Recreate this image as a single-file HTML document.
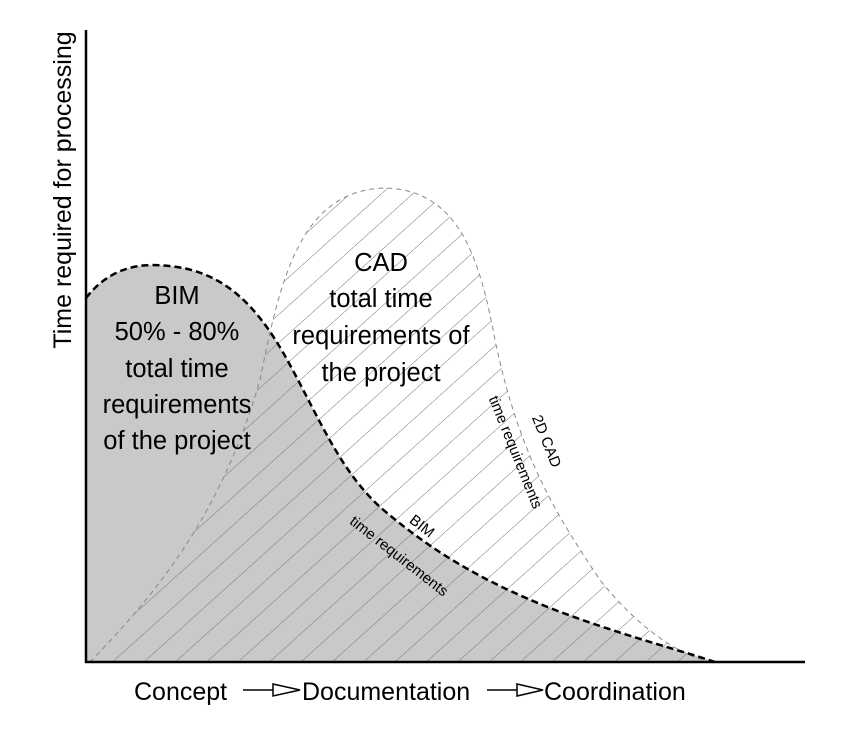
<!DOCTYPE html>
<html><head><style>body{margin:0;background:#fff}svg{display:block}text{font-family:"Liberation Sans",Arial,sans-serif;fill:#000}</style></head><body>
<svg width="850" height="731" viewBox="0 0 850 731" xmlns="http://www.w3.org/2000/svg">
<defs>
<pattern id="h" patternUnits="userSpaceOnUse" width="21" height="21" patternTransform="rotate(48)">
<line x1="0" y1="0" x2="0" y2="21" stroke="#777" stroke-width="1"/>
</pattern>
<clipPath id="cad"><path d="M90,662 C150,600 220,520 260,380 C280,280 300,190 385,188 C460,190 480,260 495,340 C520,460 560,520 600,580 C640,630 680,655 710,662 Z"/></clipPath>
</defs>
<path d="M86,662 L86,298 C100,280 120,266 150,265 C210,265 250,290 290,365 C320,420 340,470 380,507 C430,550 480,580 550,608 C620,635 680,650 715,662 Z" fill="#c9c9c9"/>
<rect x="86" y="180" width="640" height="482" fill="url(#h)" clip-path="url(#cad)"/>
<path d="M90,662 C150,600 220,520 260,380 C280,280 300,190 385,188 C460,190 480,260 495,340 C520,460 560,520 600,580 C640,630 680,655 710,662" fill="none" stroke="#888" stroke-width="1" stroke-dasharray="5,4"/>
<path d="M86,298 C100,280 120,266 150,265 C210,265 250,290 290,365 C320,420 340,470 380,507 C430,550 480,580 550,608 C620,635 680,650 715,662" fill="none" stroke="#000" stroke-width="2.5" stroke-dasharray="7,4"/>
<line x1="86" y1="30" x2="86" y2="663" stroke="#000" stroke-width="2.5"/>
<line x1="85" y1="662" x2="805" y2="662" stroke="#000" stroke-width="2.5"/>
<text transform="translate(71,190) rotate(-90)" font-size="25" text-anchor="middle">Time required for processing</text>
<g font-size="25.5" text-anchor="middle">
<text x="177" y="304">BIM</text>
<text x="177" y="340">50% - 80%</text>
<text x="177" y="377">total time</text>
<text x="177" y="413">requirements</text>
<text x="177" y="449">of the project</text>
<text x="381" y="271">CAD</text>
<text x="381" y="307">total time</text>
<text x="381" y="344">requirements of</text>
<text x="381" y="381">the project</text>
</g>
<g font-size="15" text-anchor="middle">
<text transform="translate(511,454) rotate(68)">time requirements</text>
<text transform="translate(542,443) rotate(68)">2D CAD</text>
<text transform="translate(419,530) rotate(38)">BIM</text>
<text transform="translate(396,560) rotate(38)">time requirements</text>
</g>
<g font-size="25">
<text x="134" y="700">Concept</text>
<text x="302" y="700">Documentation</text>
<text x="544" y="700">Coordination</text>
</g>
<g stroke="#000" stroke-width="1.5" fill="#fff">
<line x1="243" y1="690" x2="273" y2="690"/><path d="M273,684 L300,690 L273,696 Z"/>
<line x1="487" y1="690" x2="517" y2="690"/><path d="M517,684 L543,690 L517,696 Z"/>
</g>
</svg>
</body></html>
